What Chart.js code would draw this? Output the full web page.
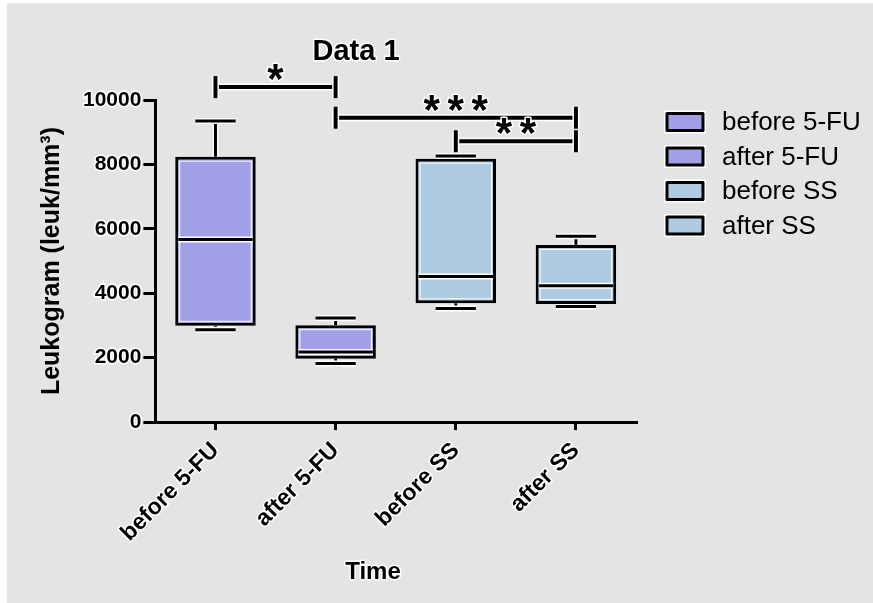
<!DOCTYPE html>
<html>
<head>
<meta charset="utf-8">
<title>Data 1</title>
<script src="https://cdn.jsdelivr.net/npm/chart.js@4.4.1/dist/chart.umd.min.js"></script>
<style>
  html, body { margin: 0; padding: 0; background: #fff; }
  canvas { display: block; }
</style>
</head>
<body>
<canvas id="chart" width="873" height="603"></canvas>
<script>
// groups on the x axis
const categories = ['before 5-FU', 'after 5-FU', 'before SS', 'after SS'];

// box plot values (leuk/mm3)
const whiskerLow = [2870, 1820, 3530, 3590];
const boxLow = [2990, 1970, 3690, 3665];
const medians = [5670, 2180, 4520, 4230];
const boxHigh = [8240, 3010, 8180, 5500];
const whiskerHigh = [9350, 3230, 8265, 5770];

// y ticks
const yTicks = [0, 2000, 4000, 6000, 8000, 10000];

// significance brackets: from group, to group, height, label
const sigFrom = [0, 1, 2];
const sigTo = [1, 3, 3];
const sigLevel = [10400, 9450, 8720];
const sigLabel = ['*', '***', '**'];

const boxColors = ['#a19fe6', '#a19fe6', '#afcbe2', '#afcbe2'];
const FONT = 'Liberation Sans, Arial, Helvetica, sans-serif';

function strokeLine(ctx, pts, width) {
  // white halo first, then the black line
  ctx.lineCap = 'butt';
  [['#fff', width + 3], ['#000', width]].forEach(([col, w]) => {
    ctx.strokeStyle = col;
    ctx.lineWidth = w;
    ctx.beginPath();
    ctx.moveTo(pts[0], pts[1]);
    for (let k = 2; k < pts.length; k += 2) ctx.lineTo(pts[k], pts[k + 1]);
    ctx.stroke();
  });
}

function haloText(ctx, text, x, y) {
  ctx.strokeStyle = '#fff';
  ctx.lineWidth = 3;
  ctx.lineJoin = 'round';
  ctx.strokeText(text, x, y);
  ctx.fillStyle = '#000';
  ctx.fillText(text, x, y);
}

const boxPlotExtras = {
  id: 'boxPlotExtras',
  beforeDraw(chart) {
    const ctx = chart.ctx;
    ctx.save();
    ctx.fillStyle = '#e4e4e4';
    ctx.fillRect(7, 3, chart.width - 7, chart.height - 3);
    ctx.restore();
  },
  beforeDatasetsDraw(chart) {
    // whiskers go under the boxes
    const {ctx, scales: {y}} = chart;
    const meta = chart.getDatasetMeta(0);
    ctx.save();
    meta.data.forEach((bar, i) => {
      const cx = bar.x;
      const cap = bar.width / 4;
      const top = y.getPixelForValue(boxHigh[i]);
      const bot = y.getPixelForValue(boxLow[i]);
      const hi = y.getPixelForValue(whiskerHigh[i]);
      const lo = y.getPixelForValue(whiskerLow[i]);
      strokeLine(ctx, [cx, top, cx, hi], 3);
      strokeLine(ctx, [cx - cap, hi, cx + cap, hi], 3);
      strokeLine(ctx, [cx, bot, cx, lo], 3);
      strokeLine(ctx, [cx - cap, lo, cx + cap, lo], 3);
    });
    ctx.restore();
  },
  afterDatasetsDraw(chart) {
    const {ctx, scales: {y}} = chart;
    const meta = chart.getDatasetMeta(0);
    ctx.save();
    meta.data.forEach((bar, i) => {
      const half = bar.width / 2;
      const top = y.getPixelForValue(boxHigh[i]);
      const bot = y.getPixelForValue(boxLow[i]);
      const med = y.getPixelForValue(medians[i]);
      // thin white line inside the border
      ctx.strokeStyle = '#fff';
      ctx.lineWidth = 1;
      ctx.strokeRect(bar.x - half + 4.5, top + 4.5, bar.width - 9, bot - top - 9);
      strokeLine(ctx, [bar.x - half + 3, med, bar.x + half - 3, med], 3);
    });
    ctx.restore();
  },
  afterDraw(chart) {
    const {ctx, scales: {x, y}} = chart;
    ctx.save();
    sigLabel.forEach((lab, i) => {
      const x1 = x.getPixelForValue(sigFrom[i]);
      const x2 = x.getPixelForValue(sigTo[i]);
      const yy = y.getPixelForValue(sigLevel[i]);
      strokeLine(ctx, [x1, yy, x2, yy], 4);
      strokeLine(ctx, [x1, yy - 11, x1, yy + 11], 4);
      strokeLine(ctx, [x2, yy - 11, x2, yy + 11], 4);
      ctx.font = 'bold 42px ' + FONT;
      ctx.textAlign = 'center';
      ctx.textBaseline = 'alphabetic';
      const mid = (x1 + x2) / 2;
      for (let k = 0; k < lab.length; k++) {
        haloText(ctx, lab[k], mid + (k - (lab.length - 1) / 2) * 24, yy + 6);
      }
    });
    ctx.textAlign = 'center';
    ctx.textBaseline = 'middle';
    ctx.font = 'bold 29px ' + FONT;
    haloText(ctx, 'Data 1', 356, 52);
    ctx.font = 'bold 24px ' + FONT;
    haloText(ctx, 'Time', 373, 572);

    // legend, one entry per group
    ctx.textAlign = 'left';
    ctx.font = '26px ' + FONT;
    const lx = chart.chartArea.right + 31;
    categories.forEach((c, i) => {
      const cy = chart.chartArea.top + 22 + i * 34.5;
      ctx.fillStyle = '#fff';
      ctx.fillRect(lx - 3, cy - 11.5, 42, 23);
      ctx.fillStyle = boxColors[i];
      ctx.fillRect(lx, cy - 8.5, 36, 17);
      ctx.strokeStyle = '#000';
      ctx.lineWidth = 3;
      ctx.strokeRect(lx, cy - 8.5, 36, 17);
      ctx.fillStyle = '#000';
      ctx.fillText(c, lx + 55, cy + 1);
    });
    ctx.restore();
  }
};

new Chart(document.getElementById('chart'), {
  type: 'bar',
  data: {
    labels: categories,
    datasets: [{
      label: 'Leukogram',
      data: categories.map((c, i) => [boxLow[i], boxHigh[i]]),
      backgroundColor: boxColors,
      borderColor: '#000',
      borderWidth: 3,
      borderSkipped: false,
      barPercentage: 0.67,
      categoryPercentage: 1
    }]
  },
  options: {
    responsive: false,
    animation: false,
    layout: { padding: { left: 40, right: 237, top: 100, bottom: 49 } },
    plugins: {
      tooltip: { enabled: false },
      legend: { display: false }
    },
    scales: {
      x: {
        offset: true,
        grid: { display: true, offset: false, drawOnChartArea: false, tickLength: 8, color: '#000', lineWidth: 3 },
        border: { display: true, color: '#000', width: 3 },
        ticks: {
          minRotation: 45, maxRotation: 45, padding: 7, color: '#000',
          textStrokeColor: '#fff', textStrokeWidth: 3,
          font: { family: FONT, size: 23, weight: 'bold' }
        }
      },
      y: {
        min: 0,
        max: 10000,
        afterBuildTicks: (s) => { s.ticks = yTicks.map(v => ({ value: v })); },
        grid: { display: true, drawOnChartArea: false, tickLength: 12, color: '#000', lineWidth: 3 },
        border: { display: true, color: '#000', width: 3 },
        ticks: {
          padding: 2, color: '#000',
          callback: (v) => String(v),
          textStrokeColor: '#fff', textStrokeWidth: 3,
          font: { family: FONT, size: 21, weight: 'bold' }
        },
        title: {
          display: true,
          text: 'Leukogram (leuk/mm³)',
          color: '#000',
          padding: { top: 0, bottom: 16 },
          font: { family: FONT, size: 25, weight: 'bold', lineHeight: 1 }
        }
      }
    }
  },
  plugins: [boxPlotExtras]
});
</script>
</body>
</html>
